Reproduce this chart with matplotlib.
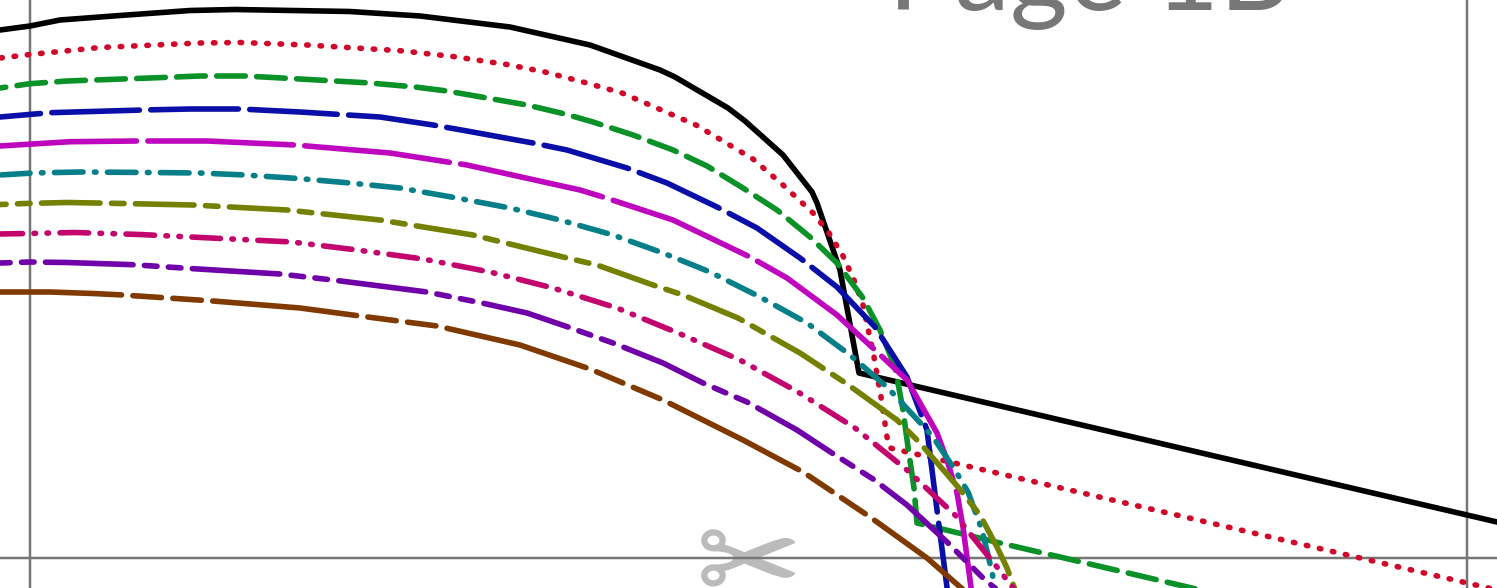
#!/usr/bin/env python3
import matplotlib
matplotlib.use("Agg")
import matplotlib.pyplot as plt
import matplotlib.patheffects as pe

# curves (x, y on the page grid)
black_x = [0, 30, 60, 120, 190, 235, 350, 420, 510, 590, 660, 675, 728, 745, 783, 812, 817, 840, 859, 1497]
black_y = [30, 26, 20, 15.5, 10.5, 9.5, 11.5, 16, 27, 45, 70, 77, 108, 121, 155, 192, 203, 270, 373, 522]

red_x = [0, 30, 100, 200, 240, 307, 400, 453, 507, 545, 583, 622, 659, 696, 753, 783, 813, 829, 843, 854, 863, 874, 881, 887, 890, 1497]
red_y = [58, 54.5, 47.5, 43, 42.5, 45, 50.7, 56.5, 64.5, 72, 82, 93, 109, 125, 159, 185, 213, 233, 256, 280, 305, 357, 397, 437, 448, 590]

green_x = [0, 30, 67, 150, 200, 245, 300, 370, 415, 447, 487, 527, 565, 593, 633, 673, 707, 743, 777, 810, 837, 863, 880, 895, 903, 908, 914, 917, 1000, 1060, 1230]
green_y = [88, 83.7, 81, 78, 76, 76, 79, 83, 87, 91, 98, 105, 114, 122, 135, 150, 166, 188, 210, 237, 263, 298, 330, 367, 410, 447, 488, 523, 543, 557, 597]

blue_x = [0, 50, 143, 190, 240, 300, 380, 433, 467, 533, 567, 627, 667, 717, 757, 800, 837, 875, 907, 927, 937, 948]
blue_y = [117, 112.7, 110, 109, 109, 112, 117, 125, 131, 143, 150, 168, 183, 207, 228, 258, 287, 327, 377, 430, 510, 595]

magenta_x = [0, 70, 137, 207, 295, 390, 467, 580, 603, 673, 750, 787, 837, 875, 907, 937, 947, 957, 963, 972]
magenta_y = [146, 141.7, 141, 141, 145, 153, 165, 190, 197, 220, 257, 278, 315, 350, 380, 433, 460, 493, 527, 595]

teal_x = [0, 33, 80, 150, 200, 245, 298, 350, 400, 457, 510, 560, 613, 663, 710, 760, 807, 850, 888, 925, 933, 955, 968, 982, 992, 996]
teal_y = [175, 173, 172, 172.5, 173, 175, 178.5, 183, 188, 198, 208, 220, 235, 253, 272, 297, 323, 355, 388, 428, 437, 470, 492, 530, 572, 595]

olive_x = [0, 25, 67, 123, 193, 287, 380, 473, 563, 597, 653, 683, 738, 800, 847, 897, 920, 958, 980, 997, 1007, 1017]
olive_y = [204.5, 203.5, 202.5, 203.5, 205, 210, 220, 235, 257, 265, 285, 295, 318, 353, 384, 420, 443, 487, 515, 547, 568, 595]

crimson_x = [0, 27, 75, 140, 292, 357, 423, 490, 553, 617, 678, 740, 798, 855, 907, 955, 997, 1020]
crimson_y = [234, 233.5, 232.5, 234.5, 242, 250, 259, 272, 288, 308, 333, 360, 392, 428, 470, 515, 567, 597]

purple_x = [0, 30, 67, 133, 190, 280, 337, 427, 482, 527, 568, 613, 663, 703, 747, 797, 832, 873, 907, 947, 982, 1005]
purple_y = [263, 262, 262.5, 264.7, 268.5, 274, 280.5, 292, 303, 313, 327, 343, 363, 383, 402, 430, 453, 479, 505, 542, 577, 597]

brown_x = [0, 50, 93, 123, 213, 300, 360, 437, 520, 590, 663, 743, 803, 870, 927, 975]
brown_y = [292, 292, 293.5, 295, 301, 308, 316, 326, 345, 369, 400, 440, 472, 517, 558, 600]

grid_x = [30, 1467]
grid_y = [558]

page_title = "Page 1B"
scissors = "\u2702"

px = 0.72  # one image pixel in points at dpi 100
lw = 5.6 * px
plt.rcParams["lines.scale_dashes"] = False


def pat(offset, *seq):
    return (offset * px, tuple(v * px for v in seq))


fig = plt.figure(figsize=(14.97, 5.88), dpi=100)
ax = fig.add_axes([0, 0, 1, 1])
ax.set_xlim(0, 1497)
ax.set_ylim(588, 0)
ax.axis("off")

ax.text(749, 569, scissors, color="#bbbbbb", fontsize=90, family="DejaVu Sans",
        ha="center", va="center", zorder=1,
        path_effects=[pe.withStroke(linewidth=1, foreground="#bbbbbb")])
ax.text(888, 10.5, page_title, color="#777777", fontsize=80, family="Lato",
        ha="left", va="baseline", zorder=1)

for x in grid_x:
    ax.axvline(x, color="#777777", linewidth=2.5 * px, zorder=2)
for y in grid_y:
    ax.axhline(y, color="#777777", linewidth=2.5 * px, zorder=2)

curves = [
    (black_x, black_y, "#000000", "-"),
    (red_x, red_y, "#d0092b", pat(12.5, 1.5, 11.83)),
    (green_x, green_y, "#0a9128", pat(22.8, 28.6, 11.4)),
    (blue_x, blue_y, "#0a0fa8", pat(47, 87.6, 11.4)),
    (magenta_x, magenta_y, "#bf06bf", pat(9, 145.6, 11.4)),
    (teal_x, teal_y, "#067f88", pat(51.5, 28.6, 11.4, 1.6, 11.4)),
    (olive_x, olive_y, "#738000", pat(52.5, 58.6, 11.4, 12.6, 11.4)),
    (crimson_x, crimson_y, "#c2066e", pat(6, 28.6, 11.4, 1.6, 11.4, 1.6, 11.4)),
    (purple_x, purple_y, "#7000a8", pat(101.5, 87.6, 11.4, 12.6, 11.4, 12.6, 11.4)),
    (brown_x, brown_y, "#803a00", pat(23, 144.6, 11.4, 28.6, 11.4, 28.6, 11.4)),
]
for i, (xs, ys, col, style) in enumerate(curves):
    ax.plot(xs, ys, color=col, linewidth=lw, linestyle=style,
            dash_capstyle="round", solid_capstyle="round",
            solid_joinstyle="round", dash_joinstyle="round", zorder=3 + i)

fig.savefig("out.png", dpi=100)
